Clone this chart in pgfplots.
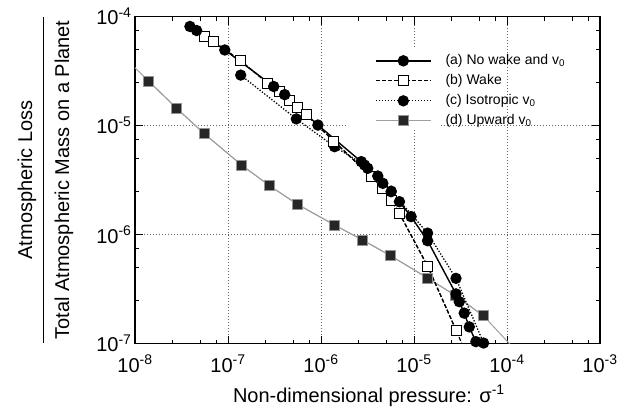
\documentclass[border=0pt]{standalone}
\usepackage{fontspec}
\setmainfont{Liberation Sans}
\usepackage{pgfplots}
\pgfplotsset{compat=1.18}
\setlength{\arrayrulewidth}{1pt}
\begin{document}
\begin{tikzpicture}
\useasboundingbox (0,0) rectangle (628pt,409pt);
\begin{axis}[
  at={(135pt,65.5pt)}, anchor=south west,
  scale only axis, width=465pt, height=327pt,
  xmode=log, ymode=log,
  xmin=1e-8, xmax=1e-3, ymin=1e-7, ymax=1e-4,
  xtick={1e-8,1e-7,1e-6,1e-5,1e-4,1e-3},
  xticklabels={10\textsuperscript{-8},10\textsuperscript{-7},10\textsuperscript{-6},10\textsuperscript{-5},10\textsuperscript{-4},10\textsuperscript{-3}},
  ytick={1e-7,1e-6,1e-5,1e-4},
  yticklabels={10\textsuperscript{-7},10\textsuperscript{-6},10\textsuperscript{-5},10\textsuperscript{-4}},
  minor xtick={2.5e-8,5e-8,7.5e-8,2.5e-7,5e-7,7.5e-7,2.5e-6,5e-6,7.5e-6,2.5e-5,5e-5,7.5e-5,2.5e-4,5e-4,7.5e-4},
  minor ytick={2.5e-7,5e-7,7.5e-7,2.5e-6,5e-6,7.5e-6,2.5e-5,5e-5,7.5e-5},
  tick align=inside,
  major tick length=8pt, minor tick length=4pt,
  every tick/.style={black, line width=0.8pt},
  axis line style={line width=1.1pt},
  grid=major,
  major grid style={dash pattern=on 1pt off 2pt, gray!80!black, line width=0.6pt},
  ticklabel style={font=\fontsize{20}{24}\selectfont},
  xticklabel style={yshift=-8pt},
  label style={font=\fontsize{20}{24}\selectfont},
  xlabel={Non-dimensional pressure: σ\textsuperscript{-1}},
  xlabel style={at={(axis description cs:0.503,-0.159)}, anchor=center},
  ylabel={\def\arraystretch{1.5}\begin{tabular}{@{\,}c@{\,}}Atmospheric Loss\\\hline Total Atmospheric Mass on a Planet\end{tabular}},
  ylabel style={at={(axis description cs:-0.197,0.5)}, anchor=center},
  legend style={at={(0.516,0.888)}, anchor=north west, draw=none, fill=none,
    font=\fontsize{14}{16}\selectfont, row sep=5pt, inner sep=0pt,
    nodes={inner sep=1pt, text height=10pt, text depth=3pt},
    /tikz/every odd column/.append style={column sep=13pt}},
  legend cell align=left,
  reverse legend,
  legend image code/.code={\draw[#1, mark repeat=2, mark phase=2] plot coordinates {(0pt,0pt) (27.5pt,0pt) (55pt,0pt)};},
  dstyle/.style={gray!75, line width=1pt},
  bstyle/.style={black, dash pattern=on 4pt off 2pt, line width=1.2pt},
]
\fill[white] (rel axis cs:0.458,0.653) rectangle (rel axis cs:0.658,0.904);

% (d) Upward v0 : line continued to the frame
\addplot[dstyle, forget plot] coordinates {
  (7e-9,4.55e-5) (1.4e-8,2.56e-5) (2.8e-8,1.44e-5) (5.6e-8,8.36e-6)
  (1.4e-7,4.34e-6) (2.8e-7,2.80e-6) (5.6e-7,1.89e-6) (1.4e-6,1.22e-6)
  (2.8e-6,8.9e-7) (5.6e-6,6.39e-7) (1.4e-5,3.99e-7) (2.8e-5,2.75e-7)
  (5.6e-5,1.79e-7) (1.12e-4,9.5e-8)};
\addplot[dstyle, mark=square*, mark size=5pt,
  mark options={fill=black!85, draw=gray!85, line width=1pt}]
  coordinates {
  (1.4e-8,2.56e-5) (2.8e-8,1.44e-5) (5.6e-8,8.36e-6)
  (1.4e-7,4.34e-6) (2.8e-7,2.80e-6) (5.6e-7,1.89e-6) (1.4e-6,1.22e-6)
  (2.8e-6,8.9e-7) (5.6e-6,6.39e-7) (1.4e-5,3.99e-7) (2.8e-5,2.75e-7)
  (5.6e-5,1.79e-7)};
\addlegendentry{(d) Upward v\textsubscript{0}}

% (c) Isotropic v0
\addplot[black, dash pattern=on 1.3pt off 1.7pt, line width=1.3pt, mark=*, mark size=5pt, mark options={solid}]
  coordinates {
  (1.37e-7,2.9e-5) (5.43e-7,1.15e-5) (1.4e-6,6.39e-6) (2.94e-6,4.34e-6)
  (5.68e-6,2.5e-6) (1.40e-5,1.03e-6) (2.83e-5,3.96e-7) (5.6e-5,1.01e-7)};
\addlegendentry{(c) Isotropic v\textsubscript{0}}

% (b) Wake
\addplot[bstyle, mark=square*, mark size=5pt, mark options={solid, fill=white, line width=1pt}]
  coordinates {
  (5.64e-8,6.53e-5) (6.92e-8,5.96e-5) (1.37e-7,3.91e-5) (2.69e-7,2.44e-5)
  (3.6e-7,2.04e-5) (4.6e-7,1.71e-5) (5.65e-7,1.46e-5) (6.95e-7,1.25e-5)
  (1.37e-6,7.21e-6) (3.47e-6,3.39e-6) (4.62e-6,2.67e-6) (5.68e-6,2.07e-6)
  (6.97e-6,1.56e-6) (1.40e-5,5.14e-7) (2.83e-5,1.33e-7)};
\addlegendentry{(b) Wake}
\addplot[bstyle, forget plot]
  coordinates {
  (5.64e-8,6.53e-5) (6.92e-8,5.96e-5) (1.37e-7,3.91e-5) (2.69e-7,2.44e-5)
  (3.6e-7,2.04e-5) (4.6e-7,1.71e-5) (5.65e-7,1.46e-5) (6.95e-7,1.25e-5)
  (1.37e-6,7.21e-6) (3.47e-6,3.39e-6) (4.62e-6,2.67e-6) (5.68e-6,2.07e-6)
  (6.97e-6,1.56e-6) (1.40e-5,5.14e-7) (2.83e-5,1.33e-7) (3.5e-5,8.7e-8)};

% (a) No wake and v0
\addplot[black, line width=1.4pt, mark=*, mark size=5pt]
  coordinates {
  (3.9e-8,8.1e-5) (4.6e-8,7.44e-5) (9.24e-8,4.93e-5) (3.1e-7,2.28e-5)
  (4.07e-7,1.92e-5) (9.27e-7,1.01e-5) (2.71e-6,4.66e-6) (3.18e-6,4.05e-6)
  (4.08e-6,3.44e-6) (4.62e-6,2.95e-6) (5.68e-6,2.47e-6) (6.97e-6,2.0e-6)
  (9.3e-6,1.46e-6) (1.40e-5,8.77e-7) (2.83e-5,2.85e-7) (3.07e-5,2.42e-7)
  (3.47e-5,1.9e-7) (3.93e-5,1.42e-7) (4.63e-5,1.04e-7)};
\addlegendentry{(a) No wake and v\textsubscript{0}}
\end{axis}
\end{tikzpicture}
\end{document}
